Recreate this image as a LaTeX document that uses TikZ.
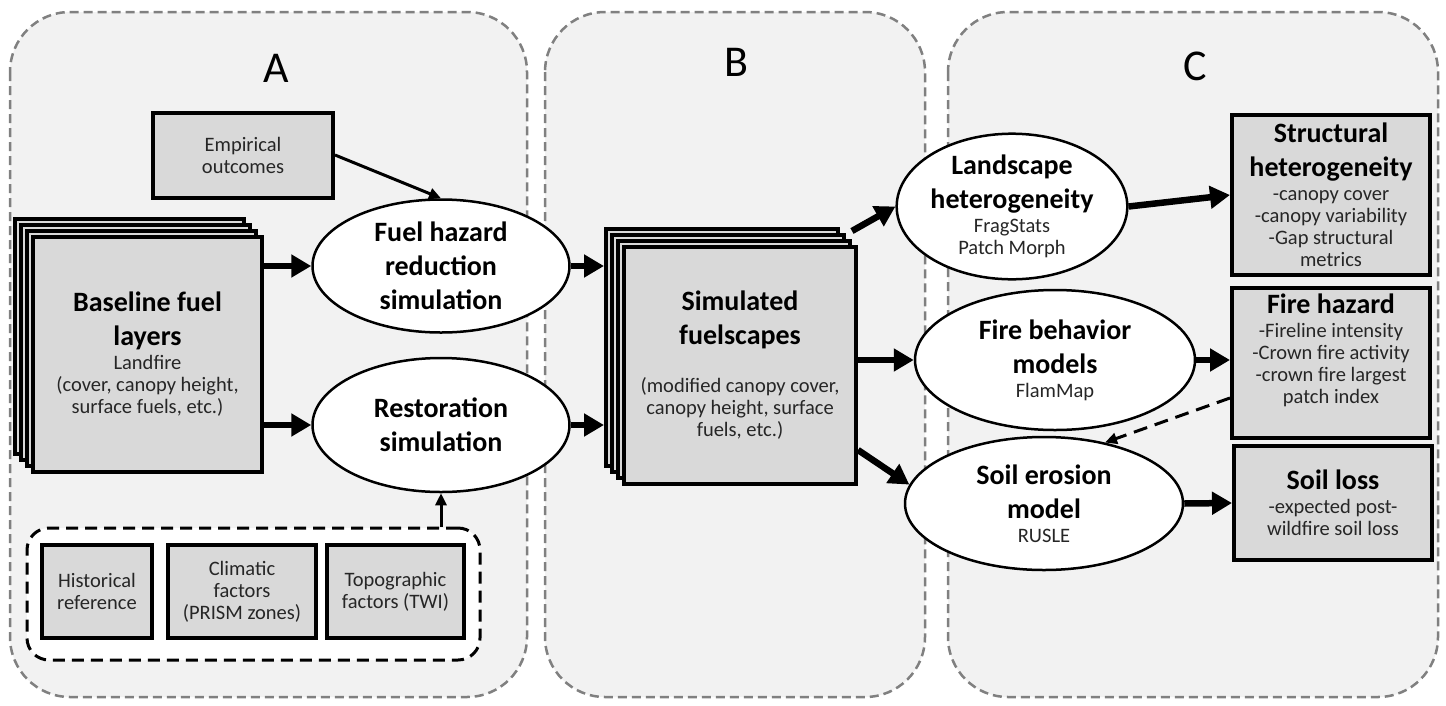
\documentclass[tikz,border=0pt]{standalone}
\usepackage{fontspec}
\setmainfont{Carlito}
\usetikzlibrary{arrows.meta, shapes.geometric, positioning, calc}

\newcommand\hd{\fontsize{28}{34}\selectfont\bfseries\color{black}}
\newcommand\sm{\fontsize{20.5}{22}\selectfont\mdseries\color{black!85}}
\newcommand\boxfont{\sm\lineskiplimit=-50pt\relax}

\tikzset{
  panel/.style={
    draw=black!50, line width=2.5pt, dash pattern=on 9pt off 5pt,
    rounded corners=60pt, fill=black!5
  },
  panelletter/.style={font=\fontsize{44}{44}\selectfont},
  fuelbox/.style={
    draw, line width=4pt, fill=black!15, align=center, inner sep=2pt,
    font=\boxfont
  },
  layerbox/.style={fuelbox},
  modelnode/.style={
    ellipse, draw, line width=2.5pt, fill=white, align=center, inner sep=0pt,
    font=\boxfont
  },
  groupbox/.style={
    draw, line width=3pt, dash pattern=on 12pt off 7pt,
    rounded corners=22pt, fill=white
  },
  flowarrow/.style={-{Triangle[length=20pt,width=22pt]}, line width=6.5pt},
  thinarrow/.style={-{Triangle[length=12pt,width=11pt]}, line width=3pt},
  linkarrow/.style={thinarrow, dash pattern=on 14pt off 8pt},
}

\begin{document}
\begin{tikzpicture}[x=1pt, y=-1pt]
  \useasboundingbox[fill=white] (0,0) rectangle (1446,705);

  % Panels
  \draw[panel] (10,12) rectangle (527,697);
  \draw[panel] (545,12) rectangle (925,697);
  \draw[panel] (948,12) rectangle (1438,697);
  \node[panelletter] (lettA) at (276,68) {A};
  \node[panelletter] (lettB) at (736,62) {B};
  \node[panelletter] (lettC) at (1195,66) {C};

  % Panel A: inputs
  \node[fuelbox, minimum width=180pt, minimum height=85pt] (emp)
    at (243,155) {Empirical\\outcomes};

  \coordinate (basepos) at (147.5,354.5);
  \foreach \k in {3,2,1}
    \node[layerbox, minimum width=229pt, minimum height=235pt] (baselayer\k)
      at ($(basepos)+(-6*\k,-6*\k)$) {};
  \node[fuelbox, minimum width=229pt, minimum height=235pt] (base)
    at (basepos)
    {\hd Baseline fuel\\[12pt]\hd layers\\[2pt]Landfire\\
     (cover, canopy height,\\surface fuels, etc.)};

  \node[modelnode, minimum width=257pt, minimum height=133pt] (fuel)
    at (441,266) {\hd Fuel hazard\\[12pt]\hd reduction\\[12pt]\hd simulation};
  \node[modelnode, minimum width=257pt, minimum height=134pt] (rest)
    at (441,425) {\hd Restoration\\[12pt]\hd simulation};

  \node[groupbox, minimum width=453pt, minimum height=132pt] (prior)
    at (253.5,594) {};
  \node[fuelbox, minimum width=110pt, minimum height=93pt] (hist)
    at (97,591.5) {Historical\\reference};
  \node[fuelbox, minimum width=148pt, minimum height=93pt] (clim)
    at (242,591.5) {Climatic\\factors\\(PRISM zones)};
  \node[fuelbox, minimum width=137pt, minimum height=93pt] (topo)
    at (395.5,591.5) {Topographic\\factors (TWI)};

  % Panel B: fuelscapes
  \coordinate (simpos) at (740,365.5);
  \foreach \k in {3,2,1}
    \node[layerbox, minimum width=232pt, minimum height=237pt] (simlayer\k)
      at ($(simpos)+(-6*\k,-6*\k)$) {};
  \node[fuelbox, minimum width=232pt, minimum height=237pt] (sim)
    at (simpos)
    {\hd Simulated\\[12pt]\hd fuelscapes\\[26pt](modified canopy cover,\\
     canopy height, surface\\fuels, etc.)};

  % Panel C: models and outcomes
  \node[modelnode, minimum width=225pt, minimum height=127pt] (land)
    at (1012,206.5)
    {\hd Landscape\\[12pt]\hd heterogeneity\\[2pt]FragStats\\Patch Morph};
  \node[modelnode, minimum width=280pt, minimum height=140pt] (fire)
    at (1055,360) {\hd Fire behavior\\[12pt]\hd models\\[2pt]FlamMap};
  \node[modelnode, minimum width=278pt, minimum height=133pt] (soil)
    at (1044,503.5) {\hd Soil erosion\\[12pt]\hd model\\[2pt]RUSLE};

  \node[fuelbox, minimum width=198pt, minimum height=160pt] (struct)
    at (1331,195)
    {\hd Structural\\[12pt]\hd heterogeneity\\[2pt]-canopy cover\\
     -canopy variability\\-Gap structural\\metrics};
  \node[fuelbox, minimum width=198pt, minimum height=150pt] (hazard)
    at (1331,363)
    {\hd Fire hazard\\[2pt]-Fireline intensity\\-Crown fire activity\\
     -crown fire largest\\patch index\\[6pt]};
  \node[fuelbox, minimum width=198pt, minimum height=114pt] (loss)
    at (1333,503)
    {\hd Soil loss\\[2pt]-expected post-\\wildfire soil loss};

  % Arrows
  \draw[thinarrow] (emp.east) -- (fuel.north);
  \draw[flowarrow] (base.east |- fuel.west) -- (fuel.west);
  \draw[flowarrow] (base.east |- rest.west) -- (rest.west);
  \draw[thinarrow] (rest.south |- prior.north) -- (rest.south);
  \draw[flowarrow] (fuel.east) -- (simlayer3.west |- fuel.east);
  \draw[flowarrow] (rest.east) -- (simlayer3.west |- rest.east);
  \draw[flowarrow] ([xshift=-6pt,yshift=14pt]sim.north east) -- (land.west);
  \draw[flowarrow] (sim.east |- fire.west) -- (fire.west);
  \draw[flowarrow] ([yshift=36pt]sim.south east) -- (soil.172);
  \draw[flowarrow] (land.east) -- (struct.west);
  \draw[flowarrow] (fire.east) -- (hazard.west |- fire.east);
  \draw[flowarrow] (soil.east) -- (loss.west);
  \draw[linkarrow] ([yshift=-35pt]hazard.west) -- (soil.45);
\end{tikzpicture}
\end{document}
